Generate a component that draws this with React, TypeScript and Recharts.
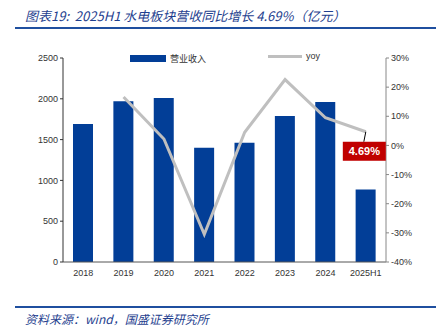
import { Bar, ComposedChart, LabelList, Line, XAxis, YAxis } from "recharts";

const years = ["2018", "2019", "2020", "2021", "2022", "2023", "2024", "2025H1"];
const revenue = [1690, 1970, 2010, 1400, 1460, 1790, 1960, 890];
const yoy = [null, 16.6, 2.2, -30.5, 4.5, 22.6, 9.5, 4.69];
const leftTicks = [0, 500, 1000, 1500, 2000, 2500];
const rightTicks = [-40, -30, -20, -10, 0, 10, 20, 30];

const data = years.map((year, i) => ({ year, revenue: revenue[i], yoy: yoy[i] }));

const blue = "#023e97";
const font = "'Liberation Sans', Arial, sans-serif";

function YoyLabel(props: any) {
  const { x, y, index, value } = props;
  if (index !== years.length - 1 || value == null) return null;
  const bx = x - 23;
  const by = y + 10;
  return (
    <g>
      <line x1={x} y1={y} x2={x - 2} y2={by} stroke="#000" strokeWidth={1} />
      <rect x={bx} y={by} width={43} height={19} fill="#c00000" />
      <text x={bx + 21.5} y={by + 13.5} textAnchor="middle" fill="#fff" fontSize={11} fontWeight="bold" fontFamily={font}>
        {value.toFixed(2)}%
      </text>
    </g>
  );
}

export default function App() {
  return (
    <div style={{ position: "absolute", left: 0, top: 0, width: 439, height: 334, background: "#fff", fontFamily: font }}>
      <div
        style={{
          position: "absolute",
          left: 25,
          top: 6,
          color: "#1f3f8f",
          fontStyle: "italic",
          fontSize: 13,
          fontFamily: "'Noto Sans CJK SC', sans-serif",
          whiteSpace: "nowrap",
        }}
      >
        图表19:&nbsp; 2025H1 水电板块营收同比增长 4.69%（亿元）
      </div>
      <div style={{ position: "absolute", left: 15, top: 27, width: 421, height: 2, background: "#1f4f9f" }} />

      <div style={{ position: "absolute", left: 130, top: 52, display: "flex", alignItems: "center", fontSize: 9, color: "#333" }}>
        <div style={{ width: 36, height: 7, background: blue, marginRight: 4 }} />
        <span style={{ fontFamily: "'Noto Sans CJK SC', sans-serif" }}>营业收入</span>
      </div>
      <div style={{ position: "absolute", left: 268, top: 51, display: "flex", alignItems: "center", fontSize: 9, color: "#333" }}>
        <div style={{ width: 34, height: 3, background: "#bfbfbf", marginRight: 4 }} />
        <span>yoy</span>
      </div>

      <div style={{ position: "absolute", left: 0, top: 0 }}>
        <ComposedChart width={439} height={334} data={data} margin={{ top: 58, right: 0, bottom: 52, left: 0 }} barCategoryGap="25%">
          <XAxis
            dataKey="year"
            height={20}
            tick={{ fontSize: 9, fill: "#333", fontFamily: font }}
            tickLine={false}
            axisLine={{ stroke: "#555" }}
            interval={0}
          />
          <YAxis
            yAxisId="left"
            width={63}
            domain={[0, 2500]}
            ticks={leftTicks}
            tick={{ fontSize: 9, fill: "#333", fontFamily: font }}
            tickSize={3}
            axisLine={{ stroke: "#333" }}
            tickLine={{ stroke: "#333" }}
          />
          <YAxis
            yAxisId="right"
            orientation="right"
            width={53}
            domain={[-40, 30]}
            ticks={rightTicks}
            tickFormatter={(v) => `${v}%`}
            tick={{ fontSize: 9, fill: "#333", fontFamily: font }}
            tickSize={3}
            axisLine={{ stroke: "#888" }}
            tickLine={{ stroke: "#888" }}
          />
          <Bar yAxisId="left" dataKey="revenue" fill={blue} barSize={20} isAnimationActive={false} />
          <Line
            yAxisId="right"
            dataKey="yoy"
            stroke="#bfbfbf"
            strokeWidth={3}
            dot={false}
            type="linear"
            connectNulls={false}
            isAnimationActive={false}
          >
            <LabelList dataKey="yoy" content={<YoyLabel />} />
          </Line>
        </ComposedChart>
      </div>

      <div style={{ position: "absolute", left: 15, top: 306, width: 421, height: 2, background: "#1f4f9f" }} />
      <div
        style={{
          position: "absolute",
          left: 25,
          top: 310,
          color: "#1f3f8f",
          fontStyle: "italic",
          fontSize: 12,
          fontFamily: "'Noto Sans CJK SC', sans-serif",
          whiteSpace: "nowrap",
        }}
      >
        资料来源：wind，国盛证券研究所
      </div>
    </div>
  );
}
